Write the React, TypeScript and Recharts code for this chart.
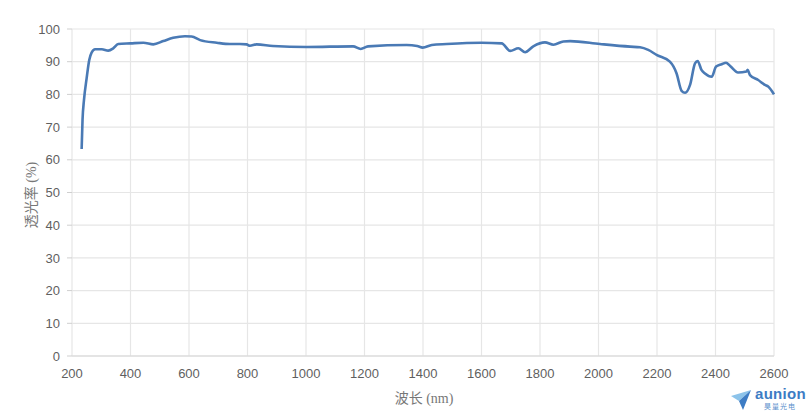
import React from 'react';
import { LineChart, Line, XAxis, YAxis, CartesianGrid } from 'recharts';

const wavelengths = [233, 236, 241, 250, 259, 267, 279, 302, 324, 341, 358, 400, 444, 478, 512, 546, 586, 609, 638, 695, 740, 774, 797, 808, 831, 887, 1002, 1161, 1187, 1212, 1344, 1380, 1399, 1430, 1481, 1600, 1669, 1698, 1726, 1749, 1777, 1817, 1846, 1880, 1903, 2005, 2108, 2142, 2170, 2200, 2244, 2267, 2284, 2296, 2313, 2330, 2339, 2352, 2364, 2387, 2402, 2421, 2436, 2450, 2477, 2506, 2510, 2518, 2546, 2569, 2580, 2600];
const transmittance = [63.3, 72.2, 78.3, 84.9, 90.5, 92.8, 93.8, 93.8, 93.4, 94.1, 95.4, 95.6, 95.8, 95.3, 96.3, 97.3, 97.8, 97.7, 96.6, 95.8, 95.4, 95.4, 95.3, 94.9, 95.3, 94.8, 94.5, 94.7, 93.9, 94.7, 95.1, 94.8, 94.3, 95.1, 95.4, 95.8, 95.6, 93.3, 94.1, 92.9, 94.7, 95.9, 95.2, 96.2, 96.3, 95.4, 94.6, 94.4, 93.6, 92.0, 90.0, 86.4, 81.1, 80.5, 82.9, 89.5, 90.2, 87.5, 86.4, 85.4, 88.5, 89.2, 89.7, 88.7, 86.7, 87.0, 87.5, 85.9, 84.4, 82.9, 82.4, 80.0];
const xTicks = [200, 400, 600, 800, 1000, 1200, 1400, 1600, 1800, 2000, 2200, 2400, 2600];
const yTicks = [0, 10, 20, 30, 40, 50, 60, 70, 80, 90, 100];
const xLabel = '波长 (nm)';
const yLabel = '透光率 (%)';

const data = wavelengths.map((w, i) => ({ wl: w, t: transmittance[i] }));

const tickStyle = { fill: '#5f5f5f', fontSize: 13, fontFamily: '"Liberation Sans", Arial, sans-serif' };
const labelFont = '"Liberation Serif", "Noto Sans CJK SC", serif';

export default function App() {
  return (
    <div style={{ position: 'absolute', left: 0, top: 0, width: 810, height: 417, background: '#fff' }}>
      <LineChart width={810} height={417} data={data} margin={{ top: 29, right: 36, bottom: 0, left: 0 }}>
        <CartesianGrid stroke="#e6e6e6" strokeWidth={1.2} />
        <XAxis
          dataKey="wl"
          type="number"
          domain={[200, 2600]}
          ticks={xTicks}
          interval={0}
          tickLine={false}
          tickSize={0}
          tickMargin={13}
          axisLine={{ stroke: '#d6d6d6' }}
          tick={tickStyle}
          height={61}
        />
        <YAxis
          type="number"
          domain={[0, 100]}
          ticks={yTicks}
          interval={0}
          width={72}
          axisLine={false}
          tickLine={{ stroke: '#cfcfcf' }}
          tickSize={5}
          tickMargin={7}
          tick={tickStyle}
        />
        <Line
          type="monotone"
          dataKey="t"
          stroke="#4a7ab5"
          strokeWidth={2.6}
          dot={false}
          isAnimationActive={false}
        />
      </LineChart>
      <div
        style={{
          position: 'absolute',
          left: 32,
          top: 195,
          transform: 'translate(-50%, -50%) rotate(-90deg)',
          whiteSpace: 'nowrap',
          fontSize: 14,
          color: '#777',
          fontFamily: labelFont,
          lineHeight: 1,
        }}
      >
        {yLabel}
      </div>
      <div
        style={{
          position: 'absolute',
          left: 424,
          top: 399,
          transform: 'translate(-50%, -50%)',
          whiteSpace: 'nowrap',
          fontSize: 14,
          color: '#777',
          fontFamily: labelFont,
          lineHeight: 1,
        }}
      >
        {xLabel}
      </div>
      <svg style={{ position: 'absolute', left: 730, top: 388 }} width={24} height={24} viewBox="0 0 24 24">
        <polygon points="1,8 21,2 9,13" fill="#8cc3ea" />
        <polygon points="9,13 21,2 13,22" fill="#3d7cc4" />
      </svg>
      <div
        style={{
          position: 'absolute',
          left: 755,
          top: 386,
          fontSize: 15,
          fontWeight: 700,
          color: '#3d7cc4',
          fontFamily: '"Liberation Sans", Arial, sans-serif',
          lineHeight: 1,
          letterSpacing: 0.3,
        }}
      >
        aunion
      </div>
      <div
        style={{
          position: 'absolute',
          left: 764,
          top: 403,
          fontSize: 7,
          color: '#5a90cc',
          fontFamily: '"Noto Sans CJK SC", sans-serif',
          lineHeight: 1,
          letterSpacing: 1,
        }}
      >
        昊量光电
      </div>
    </div>
  );
}
